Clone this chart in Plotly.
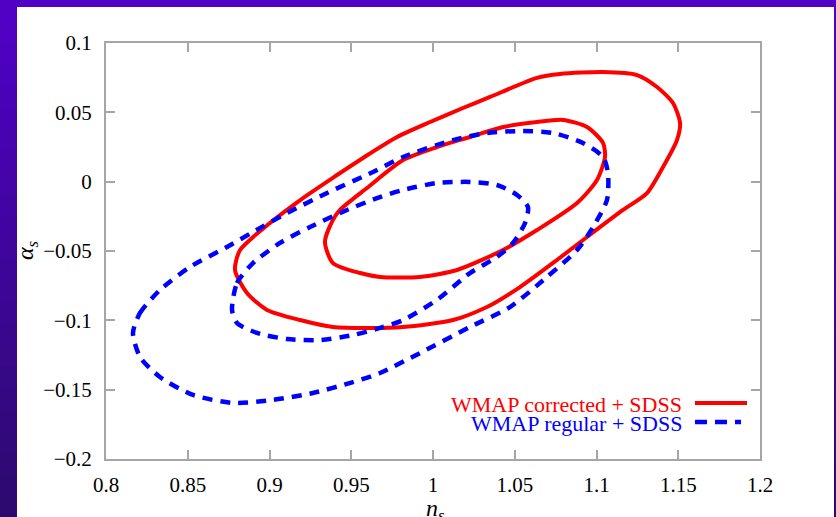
import plotly.graph_objects as go

# ---------------- data ----------------
red_outer_ns = [0.8789, 0.8820, 0.9003, 0.9205, 0.9413, 0.9572, 0.9780, 0.9982, 1.0183, 1.0349,
                1.0636, 1.0777, 1.1040, 1.1248, 1.1370, 1.1468, 1.1511, 1.1492, 1.1407, 1.1309,
                1.1162, 1.0942, 1.0758, 1.0532, 1.0330, 1.0122, 0.9817, 0.9615, 0.9388, 0.9187,
                0.8985, 0.8862, 0.8789]
red_outer_as = [-0.0637, -0.0493, -0.0298, -0.0118, 0.0048, 0.0171, 0.0322, 0.0430, 0.0531, 0.0611,
                0.0748, 0.0776, 0.0791, 0.0769, 0.0683, 0.0567, 0.0423, 0.0300, 0.0106, -0.0082,
                -0.0204, -0.0399, -0.0565, -0.0760, -0.0904, -0.0998, -0.1048, -0.1055, -0.1048, -0.0998,
                -0.0925, -0.0803, -0.0637]

red_inner_ns = [0.9339, 0.9388, 0.9431, 0.9596, 0.9817, 1.0024, 1.0226, 1.0428, 1.0636, 1.0795,
                1.0942, 1.1040, 1.1052, 1.1003, 1.0881, 1.0636, 1.0428, 1.0147, 0.9920, 0.9676,
                0.9554, 0.9388, 0.9339]
red_inner_as = [-0.0435, -0.0276, -0.0204, -0.0046, 0.0156, 0.0250, 0.0322, 0.0394, 0.0430, 0.0445,
                0.0394, 0.0279, 0.0178, 0.0012, -0.0154, -0.0349, -0.0493, -0.0637, -0.0687, -0.0687,
                -0.0659, -0.0587, -0.0435]

blue_outer_ns = [0.8165, 0.8208, 0.8330, 0.8514, 0.8740, 0.8899, 0.9107, 0.9352, 0.9633, 0.9817,
                 1.0122, 1.0330, 1.0532, 1.0734, 1.0917, 1.1040, 1.1070, 1.1064, 1.0979, 1.0881,
                 1.0697, 1.0471, 1.0226, 0.9920, 0.9676, 0.9511, 0.9266, 0.9021, 0.8777, 0.8532,
                 0.8330, 0.8208, 0.8165]
blue_outer_as = [-0.1091, -0.0947, -0.0781, -0.0615, -0.0471, -0.0363, -0.0226, -0.0082, 0.0070, 0.0178,
                 0.0300, 0.0351, 0.0365, 0.0351, 0.0279, 0.0178, 0.0063, -0.0132, -0.0327, -0.0493,
                 -0.0687, -0.0904, -0.1048, -0.1236, -0.1380, -0.1445, -0.1524, -0.1574, -0.1596, -0.1538,
                 -0.1409, -0.1264, -0.1091]

blue_inner_ns = [0.8771, 0.8801, 0.8899, 0.9064, 0.9248, 0.9474, 0.9676, 0.9817, 1.0024, 1.0226,
                 1.0391, 1.0514, 1.0581, 1.0563, 1.0489, 1.0391, 1.0226, 1.0024, 0.9817, 0.9676,
                 0.9511, 0.9309, 0.9107, 0.8924, 0.8801, 0.8771]
blue_inner_as = [-0.0925, -0.0731, -0.0587, -0.0442, -0.0327, -0.0204, -0.0111, -0.0060, -0.0010, -0.0002,
                 -0.0024, -0.0096, -0.0183, -0.0298, -0.0442, -0.0543, -0.0659, -0.0853, -0.0998, -0.1055,
                 -0.1106, -0.1142, -0.1135, -0.1091, -0.1019, -0.0925]

x_ticks = [0.8, 0.85, 0.9, 0.95, 1.0, 1.05, 1.1, 1.15, 1.2]
x_tick_labels = ["0.8", "0.85", "0.9", "0.95", "1", "1.05", "1.1", "1.15", "1.2"]
y_ticks = [-0.2, -0.15, -0.1, -0.05, 0.0, 0.05, 0.1]
y_tick_labels = ["\u22120.2", "\u22120.15", "\u22120.1", "\u22120.05", "0", "0.05", "0.1"]

legend_labels = ["WMAP corrected + SDSS", "WMAP regular + SDSS"]

# ---------------- styling ----------------
RED = "#FF0000"
BLUE = "#0000FF"
AXIS = "#A6A6A6"
SERIF = "Liberation Serif"

W, H = 836, 517
ML, MR, MT, MB = 106, 76, 43, 58
PW, PH = W - ML - MR, H - MT - MB


def px2paper_x(px):
    return (px - ML) / PW


def px2paper_y(py):
    return (H - MB - py) / PH


fig = go.Figure()

for xs, ys in [(red_outer_ns, red_outer_as), (red_inner_ns, red_inner_as)]:
    fig.add_trace(go.Scatter(x=xs, y=ys, mode="lines",
                             line=dict(color=RED, width=4, shape="spline", smoothing=0.7),
                             showlegend=False, hoverinfo="skip"))
for xs, ys in [(blue_outer_ns, blue_outer_as), (blue_inner_ns, blue_inner_as)]:
    fig.add_trace(go.Scatter(x=xs, y=ys, mode="lines",
                             line=dict(color=BLUE, width=4.5, dash="10px,8px", shape="spline", smoothing=0.7),
                             showlegend=False, hoverinfo="skip"))

shapes = []
# purple slide background with vertical gradient, drawn as bands
top_c = (0x52, 0x00, 0xC8)
bot_c = (0x2C, 0x0A, 0x6E)
N = 24
y_lo, y_hi = px2paper_y(H), px2paper_y(0)
for i in range(N):
    t0 = i / N
    t1 = (i + 1) / N
    f = (t0 + t1) / 2
    c = tuple(int(round(bot_c[k] + (top_c[k] - bot_c[k]) * f)) for k in range(3))
    col = "rgb(%d,%d,%d)" % c
    shapes.append(dict(type="rect", xref="paper", yref="paper", layer="below",
                       x0=px2paper_x(0), x1=px2paper_x(W),
                       y0=y_lo + (y_hi - y_lo) * t0, y1=y_lo + (y_hi - y_lo) * t1 + 0.002,
                       fillcolor=col, line=dict(width=0)))
# white slide panel
shapes.append(dict(type="rect", xref="paper", yref="paper", layer="below",
                   x0=px2paper_x(17), x1=px2paper_x(834),
                   y0=px2paper_y(H + 5), y1=px2paper_y(7),
                   fillcolor="white", line=dict(width=0)))
# legend sample lines
shapes.append(dict(type="line", xref="paper", yref="paper",
                   x0=px2paper_x(695), x1=px2paper_x(747),
                   y0=px2paper_y(403), y1=px2paper_y(403),
                   line=dict(color=RED, width=4)))
shapes.append(dict(type="line", xref="paper", yref="paper",
                   x0=px2paper_x(695), x1=px2paper_x(741),
                   y0=px2paper_y(422), y1=px2paper_y(422),
                   line=dict(color=BLUE, width=4.5, dash="12px,8px")))

annotations = [
    dict(text=legend_labels[0], xref="paper", yref="paper", x=px2paper_x(684), y=px2paper_y(404),
         xanchor="right", yanchor="middle", showarrow=False, font=dict(family=SERIF, size=22, color=RED)),
    dict(text=legend_labels[1], xref="paper", yref="paper", x=px2paper_x(684), y=px2paper_y(423),
         xanchor="right", yanchor="middle", showarrow=False, font=dict(family=SERIF, size=22, color=BLUE)),
    dict(text="<i>n</i><sub><i>s</i></sub>", xref="paper", yref="paper",
         x=px2paper_x(435), y=px2paper_y(510), xanchor="center", yanchor="middle",
         showarrow=False, font=dict(family=SERIF, size=24, color="black")),
    dict(text="<i>α</i><sub><i>s</i></sub>", xref="paper", yref="paper",
         x=px2paper_x(27), y=px2paper_y(250), xanchor="center", yanchor="middle", textangle=-90,
         showarrow=False, font=dict(family=SERIF, size=24, color="black")),
]

axis_common = dict(showline=True, linecolor=AXIS, linewidth=2, mirror="ticks",
                   ticks="inside", ticklen=9, tickwidth=2, tickcolor=AXIS,
                   showgrid=False, zeroline=False,
                   tickfont=dict(family=SERIF, size=21, color="black"))

fig.update_layout(
    width=W, height=H,
    margin=dict(l=ML, r=MR, t=MT, b=MB, pad=0),
    paper_bgcolor="rgb(70,6,160)",
    plot_bgcolor="white",
    showlegend=False,
    shapes=shapes,
    annotations=annotations,
    xaxis=dict(range=[0.8, 1.2], tickvals=x_ticks, ticktext=x_tick_labels,
               ticklabelstandoff=6, **axis_common),
    yaxis=dict(range=[-0.2, 0.1], tickvals=y_ticks, ticktext=y_tick_labels,
               ticklabelstandoff=8, **axis_common),
)

fig.write_html("out.html", config={"displayModeBar": False})

# remove the browser's default page margin so the figure sits at the window's top-left corner
with open("out.html", "r", encoding="utf-8") as fh:
    html = fh.read()
html = html.replace("<head>", "<head><style>html,body{margin:0;padding:0;overflow:hidden;}</style>", 1)
with open("out.html", "w", encoding="utf-8") as fh:
    fh.write(html)
